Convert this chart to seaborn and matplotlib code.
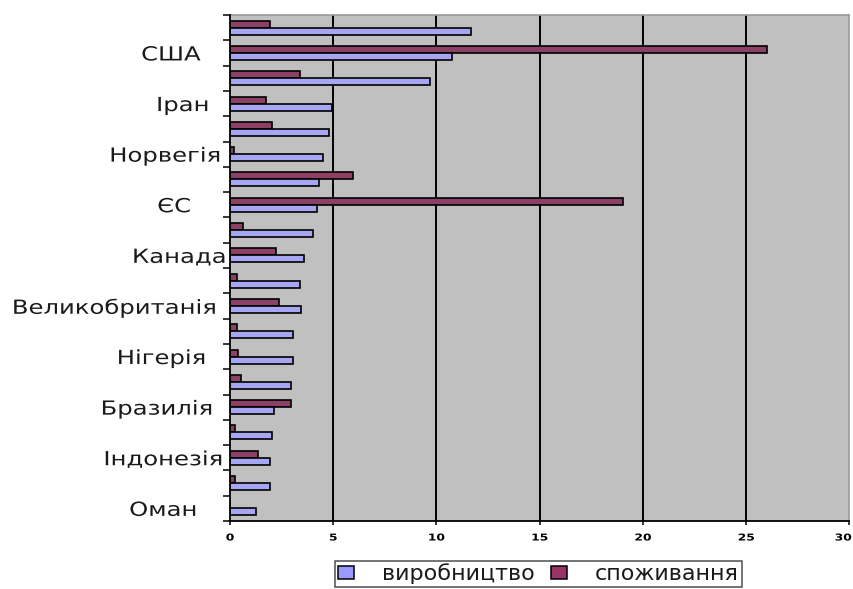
import matplotlib
matplotlib.use("Agg")
import matplotlib.pyplot as plt
from matplotlib.patches import Patch
from matplotlib.patheffects import AbstractPathEffect
from matplotlib.transforms import Affine2D
import seaborn as sns
import pandas as pd

# ---- data (rows listed top to bottom) ----
row_labels = ["", "США", "", "Іран", "", "Норвегія", "", "ЄС", "", "Канада",
              "", "Великобританія", "", "Нігерія", "", "Бразилія", "", "Індонезія", "", "Оман"]
production = [11.65, 10.75, 9.7, 4.95, 4.8, 4.5, 4.3, 4.2, 4.0, 3.6,
              3.4, 3.45, 3.05, 3.05, 2.95, 2.15, 2.05, 1.95, 1.95, 1.25]
consumption = [1.95, 26.0, 3.4, 1.75, 2.05, 0.2, 5.95, 19.05, 0.65, 2.25,
               0.35, 2.35, 0.35, 0.4, 0.55, 2.95, 0.25, 1.35, 0.25, 0.0]
series_names = ["виробництво", "споживання"]
x_ticks = [0, 5, 10, 15, 20, 25, 30]

# ---- style ----
BLUE = "#9999FF"
RED = "#993366"
# horizontal nudges (px) of the row labels, to mimic the uneven alignment
label_nudge = {"США": -11, "Іран": -3, "Норвегія": 9, "ЄС": -21, "Канада": 14,
               "Великобританія": 5, "Нігерія": -6, "Бразилія": 1, "Індонезія": 11,
               "Оман": -15}


class StretchX(AbstractPathEffect):
    """Draw text horizontally stretched about an anchor, optionally nudged."""
    def __init__(self, sx=1.2, anchor="right", dx=0.0):
        super().__init__()
        self.sx = sx
        self.anchor = anchor
        self.dx = dx

    def draw_path(self, renderer, gc, tpath, affine, rgbFace=None):
        bb = tpath.get_extents(affine)
        if self.anchor == "right":
            x0 = bb.x1
        elif self.anchor == "left":
            x0 = bb.x0
        else:
            x0 = 0.5 * (bb.x0 + bb.x1)
        new_aff = affine + Affine2D().translate(-x0, 0).scale(self.sx, 1.0).translate(x0 + self.dx, 0)
        renderer.draw_path(gc, tpath, new_aff, rgbFace)


ids = [f"r{i:02d}" for i in range(len(row_labels))]
df = pd.DataFrame({
    "row": ids * 2,
    "value": production + consumption,
    "series": [series_names[0]] * len(ids) + [series_names[1]] * len(ids),
})

sns.set_theme(style="white")
plt.rcParams["font.family"] = ["DejaVu Sans"]

fig = plt.figure(figsize=(8.54, 5.89), dpi=100)
fig.patch.set_facecolor("white")
W, H = 854, 589
ax = fig.add_axes([230 / W, 1 - 521 / H, (849.5 - 230) / W, (521 - 15) / H])
ax.set_facecolor("#C0C0C0")

sns.barplot(data=df, y="row", x="value", hue="series", order=ids,
            hue_order=[series_names[1], series_names[0]],
            palette={series_names[0]: BLUE, series_names[1]: RED},
            orient="h", width=0.55, edgecolor="black", linewidth=1.2,
            legend=False, ax=ax, zorder=3)

ax.set_xlim(0, 30)
ax.set_ylim(len(ids) - 0.5, -0.5)
ax.set_xlabel("")
ax.set_ylabel("")

# vertical grid lines
for xv in x_ticks[1:-1]:
    ax.axvline(xv, color="black", lw=1.4, zorder=1)

# y ticks: marks at category boundaries, labels on every second row
ax.set_yticks([i - 0.5 for i in range(len(ids) + 1)])
ax.set_yticklabels([])
lab_pos = [i for i, l in enumerate(row_labels) if l]
ax.set_yticks(lab_pos, minor=True)
ax.set_yticklabels([row_labels[i] for i in lab_pos], minor=True,
                   fontsize=14, color="#1a1a1a")
ax.tick_params(axis="y", which="major", length=5, width=1.1, color="black", left=True)
ax.tick_params(axis="y", which="minor", length=0, pad=13)
for t in ax.get_yticklabels(minor=True):
    t.set_path_effects([StretchX(1.25, "right", label_nudge.get(t.get_text(), 0))])

ax.set_xticks(x_ticks)
ax.set_xticklabels([str(v) for v in x_ticks], fontsize=6.8, fontweight="bold", color="black")
ax.tick_params(axis="x", length=3, width=1.1, color="black", bottom=True, pad=6)
xlabs = ax.get_xticklabels()
for i, t in enumerate(xlabs):
    if i == len(xlabs) - 1:
        t.set_ha("right")
        t.set_path_effects([StretchX(1.3, "right", 2)])
    else:
        t.set_path_effects([StretchX(1.3, "center", 0)])

for side in ["left", "bottom"]:
    ax.spines[side].set_color("black")
    ax.spines[side].set_linewidth(1.3)
for side in ["top", "right"]:
    ax.spines[side].set_color("#999999")
    ax.spines[side].set_linewidth(1.2)
ax.spines["left"].set_zorder(5)

handles = [Patch(facecolor=BLUE, edgecolor="black", linewidth=1.1, label=series_names[0]),
           Patch(facecolor=RED, edgecolor="black", linewidth=1.1, label=series_names[1])]
leg = fig.legend(handles=handles, loc="upper center",
                 bbox_to_anchor=(538.5 / W, 1 - 561 / H),
                 ncol=2, frameon=True, fancybox=False, fontsize=16,
                 handlelength=0.72, handleheight=0.55, handletextpad=1.25,
                 columnspacing=0.75, borderpad=0.12, borderaxespad=0)
leg.get_frame().set_edgecolor("#222222")
leg.get_frame().set_linewidth(1.1)
for t in leg.get_texts():
    t.set_color("#1a1a1a")

fig.savefig("out.png", dpi=100, facecolor="white")
